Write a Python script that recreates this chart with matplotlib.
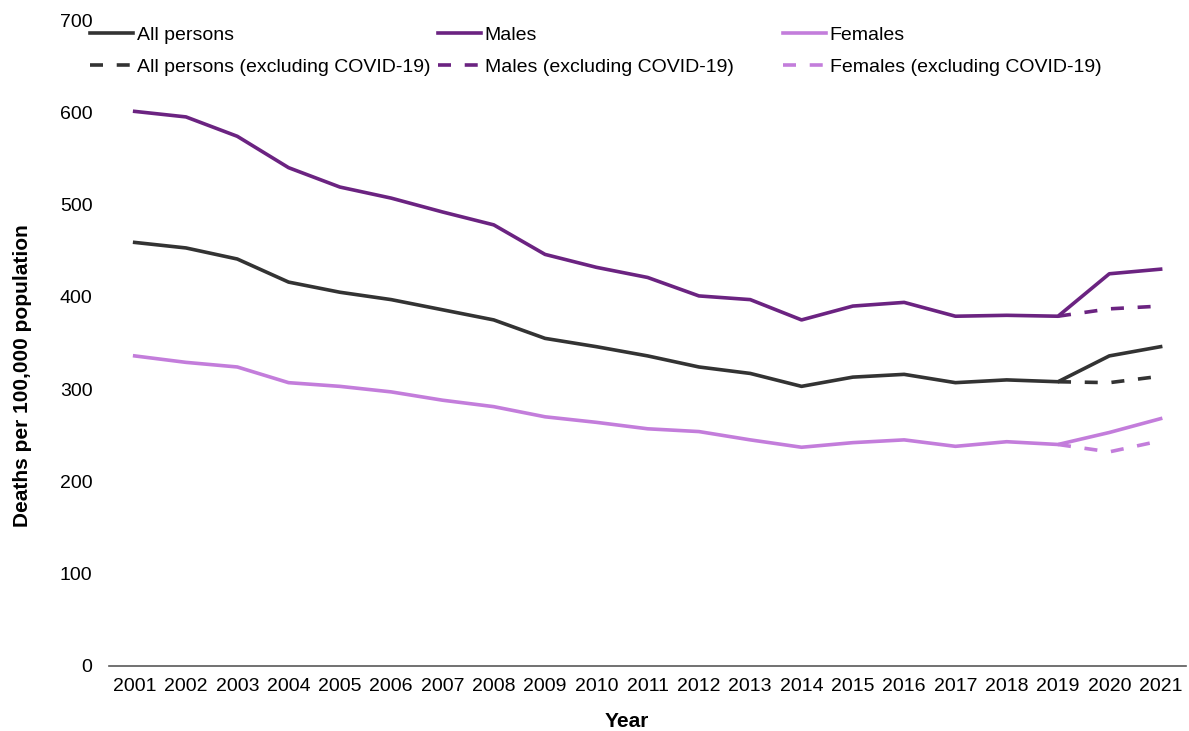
import matplotlib.pyplot as plt
import numpy as np

plt.rcParams["font.family"] = ["Liberation Sans", "DejaVu Sans"]

years = [str(y) for y in range(2001, 2022)]

all_persons = [459, 453, 441, 416, 405, 397, 386, 375, 355, 346, 336,
               324, 317, 303, 313, 316, 307, 310, 308, 336, 346]
males = [601, 595, 574, 540, 519, 507, 492, 478, 446, 432, 421,
         401, 397, 375, 390, 394, 379, 380, 379, 425, 430]
females = [336, 329, 324, 307, 303, 297, 288, 281, 270, 264, 257,
           254, 245, 237, 242, 245, 238, 243, 240, 253, 268]

# excluding COVID-19 (2019 onwards)
excl_years = ["2019", "2020", "2021"]
all_excl = [308, 307, 314]
males_excl = [379, 387, 390]
females_excl = [240, 232, 244]

c_all = "#333333"
c_male = "#6B2381"
c_female = "#C37DDB"

fig = plt.figure(figsize=(11.89, 7.31), dpi=100)
ax = fig.add_axes([0.0917, 0.089, 0.906, 0.8836])

x = np.arange(len(years))
xe = np.array([years.index(y) for y in excl_years])

lw = 2.6
dash = (3.6, 3.8)
l_all, = ax.plot(x, all_persons, color=c_all, lw=lw, label="All persons")
l_male, = ax.plot(x, males, color=c_male, lw=lw, label="Males")
l_fem, = ax.plot(x, females, color=c_female, lw=lw, label="Females")
d_all, = ax.plot(xe, all_excl, color=c_all, lw=lw, dashes=dash,
                 label="All persons (excluding COVID-19)")
d_male, = ax.plot(xe, males_excl, color=c_male, lw=lw, dashes=dash,
                  label="Males (excluding COVID-19)")
d_fem, = ax.plot(xe, females_excl, color=c_female, lw=lw, dashes=dash,
                 label="Females (excluding COVID-19)")

ax.set_xlim(-0.5, len(years) - 0.5)
ax.set_ylim(0, 700)
ax.set_yticks(range(0, 701, 100))
ax.set_xticks(x)
ax.set_xticklabels(years)
ax.tick_params(axis="both", length=0, labelsize=14)
ax.tick_params(axis="y", pad=12)
ax.tick_params(axis="x", pad=9)

for side in ["top", "right", "left"]:
    ax.spines[side].set_visible(False)
ax.spines["bottom"].set_color("#595959")
ax.spines["bottom"].set_linewidth(1.2)

ax.set_xlabel("Year", fontsize=15, fontweight="bold")
ax.xaxis.set_label_coords(0.481, -0.071)
ax.set_ylabel("Deaths per 100,000 population", fontsize=15,
              fontweight="bold")
ax.yaxis.set_label_coords(-0.0715, 0.45)

# legend: three columns placed like the original
cols = [(l_all, d_all, 0.0757), (l_male, d_male, 0.3685), (l_fem, d_fem, 0.6585)]
for solid, dashed, xpos in cols:
    fig.legend([solid, dashed], [solid.get_label(), dashed.get_label()],
               loc="upper left", bbox_to_anchor=(xpos, 0.964),
               frameon=False, fontsize=14, handlelength=2.2,
               handletextpad=0.2, labelspacing=0.75, borderaxespad=0,
               borderpad=0)

fig.savefig("out.png", dpi=100)
